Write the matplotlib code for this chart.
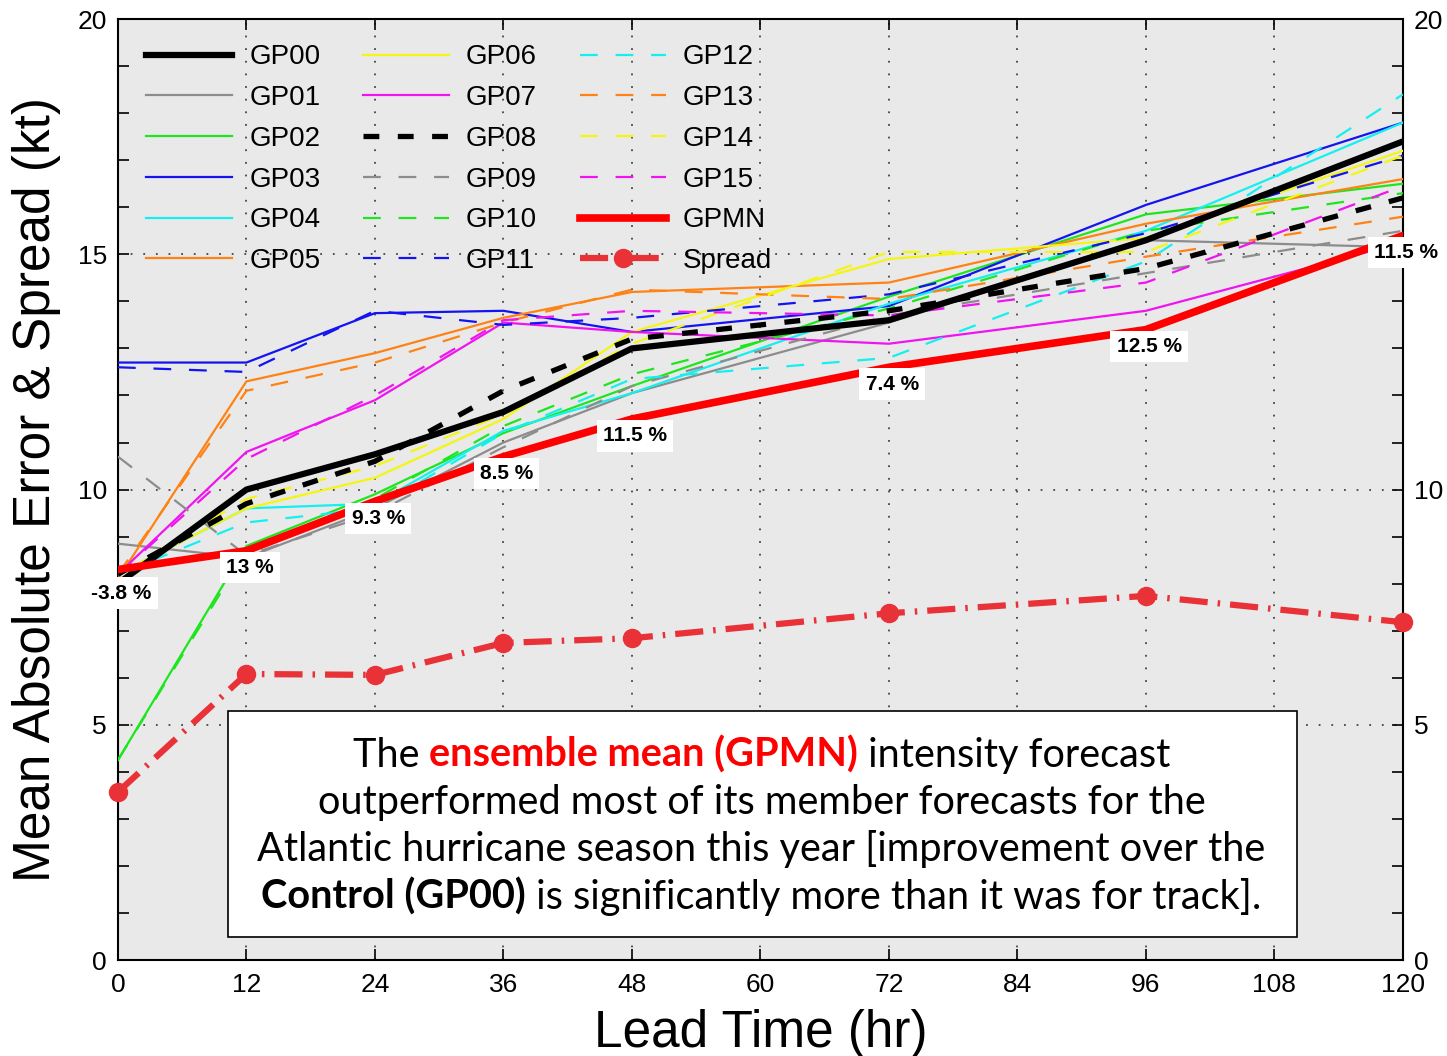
import numpy as np
import matplotlib.pyplot as plt
from matplotlib.patches import Rectangle
from matplotlib.offsetbox import TextArea, HPacker, VPacker, AnnotationBbox

plt.rcParams['font.family'] = ['Liberation Sans', 'DejaVu Sans']

# lead times (hr)
lead = [0, 12, 24, 36, 48, 72, 96, 120]

# mean absolute error (kt) per member
gp00 = [8.0, 10.0, 10.75, 11.65, 13.0, 13.6, 15.3, 17.4]
gp01 = [8.85, 8.55, 9.6, 11.0, 12.05, 13.55, 15.3, 15.15]
gp02 = [4.25, 8.8, 9.9, 11.2, 12.2, 14.1, 15.85, 16.5]
gp03 = [12.7, 12.7, 13.75, 13.8, 13.35, 13.9, 16.05, 17.8]
gp04 = [8.2, 9.6, 9.7, 11.25, 12.05, 13.95, 15.5, 17.8]
gp05 = [8.1, 12.3, 12.9, 13.65, 14.2, 14.4, 15.65, 16.6]
gp06 = [8.2, 9.6, 10.25, 11.5, 13.35, 14.9, 15.35, 17.2]
gp07 = [8.2, 10.8, 11.9, 13.55, 13.35, 13.1, 13.8, 15.25]
gp08 = [8.2, 9.7, 10.6, 12.1, 13.2, 13.8, 14.7, 16.2]
gp09 = [10.7, 8.6, 9.5, 10.9, 12.2, 13.7, 14.6, 15.5]
gp10 = [4.25, 8.7, 9.8, 11.35, 12.45, 13.85, 15.5, 16.3]
gp11 = [12.6, 12.5, 13.8, 13.5, 13.65, 14.15, 15.45, 17.1]
gp12 = [8.2, 9.3, 9.6, 11.2, 12.35, 12.8, 14.85, 18.4]
gp13 = [8.2, 12.1, 12.7, 13.55, 14.25, 14.05, 14.95, 15.8]
gp14 = [8.2, 9.8, 10.5, 11.6, 13.1, 15.05, 15.05, 17.1]
gp15 = [8.2, 10.65, 12.0, 13.6, 13.8, 13.7, 14.4, 16.45]
gpmn = [8.3, 8.7, 9.75, 10.7, 11.5, 12.6, 13.4, 15.4]
spread = [3.57, 6.08, 6.06, 6.74, 6.84, 7.37, 7.74, 7.18]

# improvement of GPMN over GP00
pct_labels = ['-3.8 %', '13 %', '9.3 %', '8.5 %', '11.5 %', '7.4 %', '12.5 %', '11.5 %']

names = ['GP%02d' % i for i in range(16)]
series = [gp00, gp01, gp02, gp03, gp04, gp05, gp06, gp07,
          gp08, gp09, gp10, gp11, gp12, gp13, gp14, gp15]
colors = ['black', '#8c8c8c', '#1ee61e', '#1414f0', '#14f0f0', '#ff8214', '#f5f514', '#f014f0']
colors = colors + colors

fig = plt.figure(figsize=(14.47, 10.56), dpi=100)
ax = fig.add_axes([0.0815, 0.0909, 0.888, 0.891])
ax.set_facecolor('#e9e9e9')

dash = (0, (8, 8))
lines = {}
for i in range(16):
    if i == 0:
        l, = ax.plot(lead, series[i], color='black', lw=4.5, zorder=5)
    elif i == 8:
        l, = ax.plot(lead, series[i], color='black', lw=3.8, ls=(0, (3, 3.5)), zorder=4)
    elif i < 8:
        l, = ax.plot(lead, series[i], color=colors[i], lw=1.6, zorder=3)
    else:
        l, = ax.plot(lead, series[i], color=colors[i], lw=1.6, ls=dash, zorder=3)
    lines[names[i]] = l

lmn, = ax.plot(lead, gpmn, color='#ff0000', lw=5.5, zorder=6)
lsp, = ax.plot(lead, spread, color='#e83238', lw=4.5, ls=(0, (4.5, 1.6, 0.4, 1.6)),
               marker='o', ms=13, markevery=1, zorder=6, clip_on=False)

for x, y, s in zip(lead, gpmn, pct_labels):
    yy = y - 0.36 if x > 0 else y - 0.5
    ax.text(x + 0.3, yy, s, ha='center', va='center', fontsize=15, fontweight='bold',
            bbox=dict(boxstyle='square,pad=0.3', fc='white', ec='none'), zorder=8, clip_on=False)

handles = [lines[n] for n in names] + [lmn, lsp]
labels = names + ['GPMN', 'Spread']
ax.legend(handles, labels, ncol=3, loc='upper left', bbox_to_anchor=(0.0135, 0.985),
          frameon=False, fontsize=20, handlelength=3.1, handletextpad=0.6,
          columnspacing=1.55, labelspacing=0.53, borderaxespad=0)

# text box
ax.add_patch(Rectangle((10.27, 0.49), 99.8, 4.8, fc='white', ec='black', lw=1.2, zorder=9))
fp = dict(family='Lato', size=28.6)
def ta(s, **kw):
    d = dict(fp)
    d.update(kw)
    return TextArea(s, textprops=d)
rows = [
    [ta('The '), ta('ensemble mean (GPMN)', color='#ff0000', weight='bold'), ta(' intensity forecast')],
    [ta('outperformed most of its member forecasts for the')],
    [ta('Atlantic hurricane season this year [improvement over the')],
    [ta('Control (GP00)', weight='bold'), ta(' is significantly more than it was for track].')],
]
packed = VPacker(children=[HPacker(children=r, align='baseline', pad=0, sep=0) for r in rows],
                 align='center', pad=0, sep=7)
ab = AnnotationBbox(packed, (60.1, 2.85), xycoords='data', frameon=False,
                    box_alignment=(0.5, 0.5), zorder=10)
ax.add_artist(ab)

ax.set_xlim(0, 120)
ax.set_ylim(0, 20)
ax.set_xticks(np.arange(0, 121, 12))
ax.set_yticks([0, 5, 10, 15, 20])
ax.set_yticks(np.arange(0, 21, 1), minor=True)
ax.tick_params(which='both', direction='in', top=True, right=True, labelright=True,
               labelsize=19, length=8, width=1.2)
ax.tick_params(axis='x', pad=9)
ax.tick_params(axis='y', pad=8)
ax.grid(True, which='major', color='#444444', ls=(0, (1, 6)), lw=1.3)
for s in ax.spines.values():
    s.set_linewidth(1.5)

ax.set_ylabel('Mean Absolute Error & Spread (kt)', fontsize=37)
ax.yaxis.set_label_coords(-0.044, 0.5)
ax.set_xlabel('Lead Time (hr)', fontsize=37)
ax.xaxis.set_label_coords(0.5, -0.052)

fig.savefig('out.png', dpi=100)
